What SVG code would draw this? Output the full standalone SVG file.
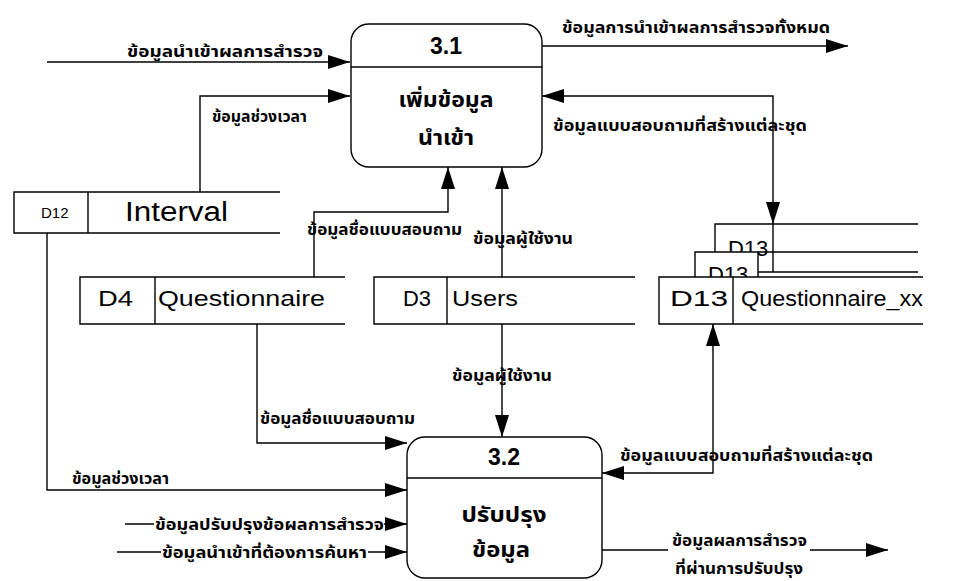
<svg xmlns="http://www.w3.org/2000/svg" width="954" height="581" viewBox="0 0 954 581">
<style>
.ln{fill:none;stroke:#000;stroke-width:1.4}
.box{fill:#fff;stroke:#000;stroke-width:1.4}
.lbl{font-family:"Noto Sans Thai","Tahoma","DejaVu Sans","Noto Sans",sans-serif;font-size:15px;font-weight:bold;fill:#000}
.pt{font-family:"Liberation Sans",Arial,sans-serif;font-size:23px;font-weight:bold;fill:#000;text-anchor:middle}
.pth{font-family:"Noto Sans Thai","Tahoma","DejaVu Sans","Noto Sans",sans-serif;font-size:21px;font-weight:bold;fill:#000;text-anchor:middle}
.ds{font-family:"Liberation Sans",Arial,sans-serif;font-size:22px;fill:#000}
</style>
<defs>
<marker id="ah" markerUnits="userSpaceOnUse" markerWidth="24" markerHeight="16" refX="22" refY="7" orient="auto-start-reverse">
<path d="M0,0 L22,7 L0,14 z" fill="#000"/>
</marker>
</defs>
<rect width="954" height="581" fill="#fff"/>

<g id="connectors">
<path class="ln" d="M47,62 H350" marker-end="url(#ah)"/>
<path class="ln" d="M200,192 V96 H350" marker-end="url(#ah)"/>
<path class="ln" d="M542,46 H848" marker-end="url(#ah)"/>
<path class="ln" d="M542,96 H773 V224" marker-start="url(#ah)" marker-end="url(#ah)"/>
<path class="ln" d="M314,277 V212 H448 V167" marker-end="url(#ah)"/>
<path class="ln" d="M502,277 V167" marker-end="url(#ah)"/>
<path class="ln" d="M502,324 V437" marker-end="url(#ah)"/>
<path class="ln" d="M257,324 V443 H407" marker-end="url(#ah)"/>
<path class="ln" d="M47,233 V490 H407" marker-end="url(#ah)"/>
<path class="ln" d="M125,524 H154 M384,524 H407" marker-end="url(#ah)"/>
<path class="ln" d="M117,552 H161 M368,552 H407" marker-end="url(#ah)"/>
<path class="ln" d="M602,473 H713 V324" marker-start="url(#ah)" marker-end="url(#ah)"/>
<path class="ln" d="M602,550 H668 M810,550 H888" marker-end="url(#ah)"/>

<text class="lbl" x="127" y="57" textLength="196" lengthAdjust="spacingAndGlyphs">ข้อมูลนำเข้าผลการสำรวจ</text>
<text class="lbl" x="212" y="122" textLength="95" lengthAdjust="spacingAndGlyphs">ข้อมูลช่วงเวลา</text>
<text class="lbl" x="562" y="33" textLength="268" lengthAdjust="spacingAndGlyphs">ข้อมูลการนำเข้าผลการสำรวจทั้งหมด</text>
<text class="lbl" x="553" y="131" textLength="254" lengthAdjust="spacingAndGlyphs">ข้อมูลแบบสอบถามที่สร้างแต่ละชุด</text>
<text class="lbl" x="307" y="235" textLength="155" lengthAdjust="spacingAndGlyphs">ข้อมูลชื่อแบบสอบถาม</text>
<text class="lbl" x="473" y="244" textLength="100" lengthAdjust="spacingAndGlyphs">ข้อมูลผู้ใช้งาน</text>
<text class="lbl" x="452" y="381" textLength="100" lengthAdjust="spacingAndGlyphs">ข้อมูลผู้ใช้งาน</text>
<text class="lbl" x="260" y="424" textLength="155" lengthAdjust="spacingAndGlyphs">ข้อมูลชื่อแบบสอบถาม</text>
<text class="lbl" x="72" y="484" textLength="97" lengthAdjust="spacingAndGlyphs">ข้อมูลช่วงเวลา</text>
<text class="lbl" x="155" y="530" textLength="229" lengthAdjust="spacingAndGlyphs">ข้อมูลปรับปรุงข้อผลการสำรวจ</text>
<text class="lbl" x="162" y="558" textLength="205" lengthAdjust="spacingAndGlyphs">ข้อมูลนำเข้าที่ต้องการค้นหา</text>
<text class="lbl" x="620" y="461" textLength="253" lengthAdjust="spacingAndGlyphs">ข้อมูลแบบสอบถามที่สร้างแต่ละชุด</text>
<text class="lbl" x="672" y="546" textLength="135" lengthAdjust="spacingAndGlyphs">ข้อมูลผลการสำรวจ</text>
<text class="lbl" x="675" y="574" textLength="128" lengthAdjust="spacingAndGlyphs">ที่ผ่านการปรับปรุง</text>
</g>

<g id="p31">
<rect class="box" x="351" y="24" width="191" height="143" rx="18"/>
<line class="ln" x1="351" y1="67" x2="542" y2="67"/>
<text class="pt" x="446" y="54">3.1</text>
<text class="pth" x="446" y="107" textLength="95" lengthAdjust="spacingAndGlyphs">เพิ่มข้อมูล</text>
<text class="pth" x="446" y="145" textLength="56" lengthAdjust="spacingAndGlyphs">นำเข้า</text>
</g>

<g id="p32">
<rect class="box" x="407" y="437" width="195" height="141" rx="18"/>
<line class="ln" x1="407" y1="478" x2="602" y2="478"/>
<text class="pt" x="504" y="465">3.2</text>
<text class="pth" x="504" y="522" textLength="85" lengthAdjust="spacingAndGlyphs">ปรับปรุง</text>
<text class="pth" x="501" y="557" textLength="58" lengthAdjust="spacingAndGlyphs">ข้อมูล</text>
</g>

<g id="d12">
<rect x="14" y="192" width="266" height="41" fill="#fff"/>
<path class="ln" d="M280,192 H14 V233 H280 M88,192 V233"/>
<text class="ds" x="41" y="218" style="font-size:15px">D12</text>
<text class="ds" x="125" y="221" style="font-size:27px" textLength="103" lengthAdjust="spacingAndGlyphs">Interval</text>
</g>

<g id="d4">
<rect x="80" y="277" width="265" height="47" fill="#fff"/>
<path class="ln" d="M345,277 H80 V324 H345 M155,277 V324"/>
<text class="ds" x="98" y="306" textLength="35" lengthAdjust="spacingAndGlyphs">D4</text>
<text class="ds" x="158" y="306" textLength="167" lengthAdjust="spacingAndGlyphs">Questionnaire</text>
</g>

<g id="d3">
<rect x="374" y="277" width="261" height="47" fill="#fff"/>
<path class="ln" d="M635,277 H374 V324 H635 M447,277 V324"/>
<text class="ds" x="403" y="306" textLength="28" lengthAdjust="spacingAndGlyphs">D3</text>
<text class="ds" x="452" y="306" textLength="66" lengthAdjust="spacingAndGlyphs">Users</text>
</g>

<g id="d13">
<rect x="715" y="224" width="58" height="48" fill="#fff"/>
<path class="ln" d="M918,224 H715 V272 H918 M773,224 V272"/>
<text class="ds" x="728" y="256">D13</text>
<rect x="695" y="252" width="63" height="47" fill="#fff"/>
<path class="ln" d="M918,252 H695 V299 H918 M758,252 V299"/>
<text class="ds" x="708" y="282">D13</text>
<rect x="659" y="277" width="264" height="47" fill="#fff"/>
<path class="ln" d="M923,277 H659 V324 H923 M733,277 V324"/>
<text class="ds" x="670" y="306" textLength="58" lengthAdjust="spacingAndGlyphs">D13</text>
<text class="ds" x="741" y="306" textLength="182" lengthAdjust="spacingAndGlyphs">Questionnaire_xx</text>
</g>
</svg>
